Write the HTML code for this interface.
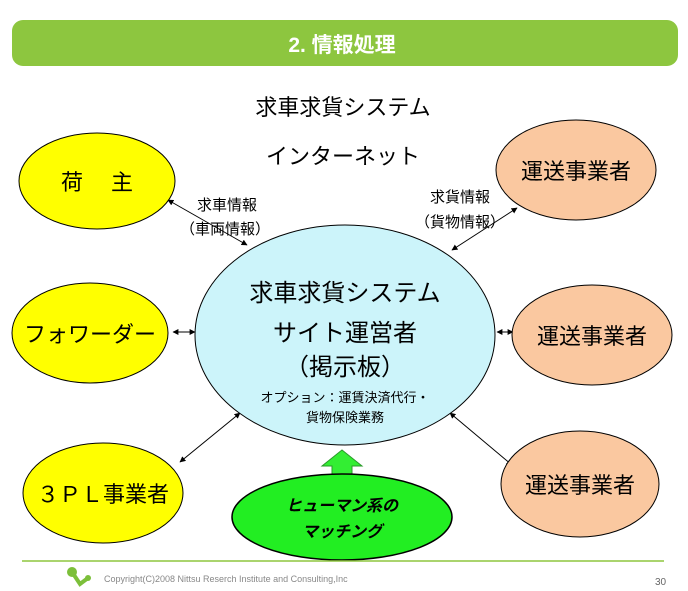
<!DOCTYPE html>
<html><head><meta charset="utf-8"><style>
html,body{margin:0;padding:0;background:#fff;width:688px;height:591px;overflow:hidden}
text{font-family:"Liberation Sans","Noto Sans CJK JP",sans-serif}
</style></head><body>
<svg width="688" height="591" viewBox="0 0 688 591" xmlns="http://www.w3.org/2000/svg">
<defs>
<marker id="a" viewBox="0 0 10 10" refX="9" refY="5" markerWidth="6" markerHeight="6" orient="auto-start-reverse"><path d="M0,0 L10,5 L0,10 z" fill="#000"/></marker>
</defs>
<rect x="12" y="20" width="666" height="46" rx="11" fill="#8dc63f"/>
<text x="342" y="52" font-size="21" font-weight="bold" fill="#fff" text-anchor="middle">2. 情報処理</text>
<text x="343" y="115" font-size="22" text-anchor="middle">求車求貨システム</text>
<text x="343" y="164" font-size="22" text-anchor="middle">インターネット</text>

<g stroke="#000" stroke-width="1" fill="none" marker-start="url(#a)" marker-end="url(#a)">
<line x1="168" y1="200" x2="247" y2="245"/>
<line x1="517" y1="208" x2="452" y2="250"/>
<line x1="173" y1="332" x2="195" y2="332"/>
<line x1="497" y1="332" x2="513" y2="332"/>
<line x1="240" y1="413" x2="180" y2="462"/>
<line x1="450" y1="413" x2="512" y2="465"/>
</g>

<ellipse cx="97" cy="181" rx="78" ry="48" fill="#ffff00" stroke="#000"/>
<text x="97" y="190" font-size="22" text-anchor="middle">荷　 主</text>
<ellipse cx="90" cy="333" rx="78" ry="50" fill="#ffff00" stroke="#000"/>
<text x="90" y="342" font-size="22" text-anchor="middle">フォワーダー</text>
<ellipse cx="103" cy="493" rx="80" ry="50" fill="#ffff00" stroke="#000"/>
<text x="103" y="502" font-size="22" text-anchor="middle">３ＰＬ事業者</text>

<ellipse cx="576" cy="170" rx="80" ry="50" fill="#fac8a0" stroke="#000"/>
<text x="576" y="179" font-size="22" text-anchor="middle">運送事業者</text>
<ellipse cx="592" cy="335" rx="80" ry="50" fill="#fac8a0" stroke="#000"/>
<text x="592" y="344" font-size="22" text-anchor="middle">運送事業者</text>
<ellipse cx="580" cy="484" rx="79" ry="53" fill="#fac8a0" stroke="#000"/>
<text x="580" y="493" font-size="22" text-anchor="middle">運送事業者</text>

<ellipse cx="345" cy="335" rx="150" ry="110" fill="#ccf4fa" stroke="#000"/>
<text x="345" y="301" font-size="24" text-anchor="middle">求車求貨システム</text>
<text x="345" y="341" font-size="24" text-anchor="middle">サイト運営者</text>
<text x="345" y="375" font-size="24" text-anchor="middle">（掲示板）</text>
<text x="345" y="402" font-size="13" text-anchor="middle">オプション：運賃決済代行・</text>
<text x="345" y="422" font-size="13" text-anchor="middle">貨物保険業務</text>

<text x="227" y="210" font-size="15" text-anchor="middle">求車情報</text>
<text x="225" y="234" font-size="15" text-anchor="middle">（車両情報）</text>
<text x="460" y="202" font-size="15" text-anchor="middle">求貨情報</text>
<text x="460" y="227" font-size="15" text-anchor="middle">（貨物情報）</text>

<path d="M332,480 L332,466 L322,466 L342,450 L362,466 L352,466 L352,480 z" fill="#33ee33" stroke="#2a9a2a"/>
<ellipse cx="342" cy="517" rx="110" ry="43" fill="#22ee22" stroke="#000" stroke-width="1.5"/>
<text x="342" y="511" font-size="16" font-style="italic" font-weight="bold" text-anchor="middle">ヒューマン系の</text>
<text x="342" y="537" font-size="16" font-style="italic" font-weight="bold" text-anchor="middle">マッチング</text>

<line x1="22" y1="561" x2="664" y2="561" stroke="#8dc63f" stroke-width="1.5"/>
<circle cx="72" cy="572" r="5" fill="#7cbf3a"/>
<path d="M72,572 L80,584 L88,578" stroke="#7cbf3a" stroke-width="4" fill="none"/>
<circle cx="88" cy="578" r="3" fill="#7cbf3a"/>
<text x="104" y="582" font-size="9" fill="#888">Copyright(C)2008 Nittsu Reserch Institute and Consulting,Inc</text>
<text x="655" y="585" font-size="10" fill="#666">30</text>
</svg>
</body></html>
